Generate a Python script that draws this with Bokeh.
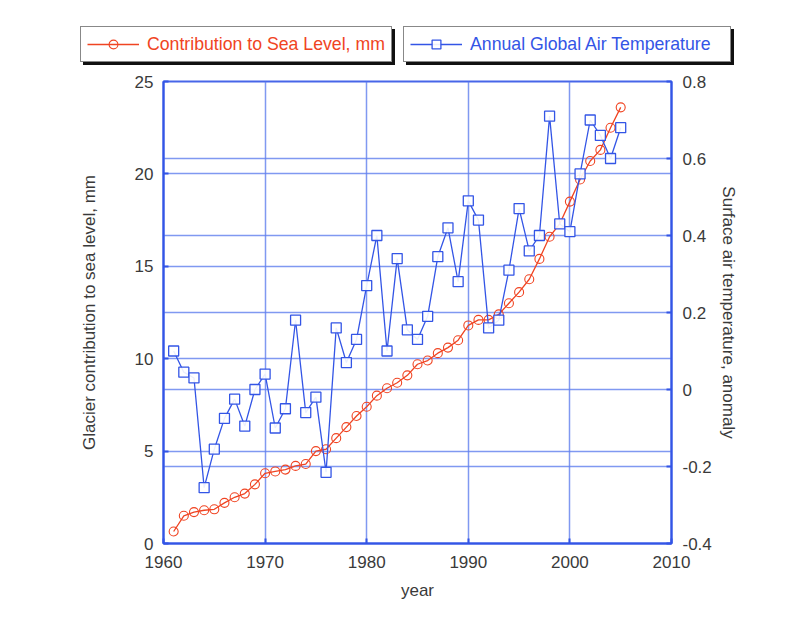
from bokeh.plotting import figure
from bokeh.layouts import column
from bokeh.models import Range1d, LinearAxis, FixedTicker, Grid, Legend, LegendItem, ColumnDataSource
from bokeh.embed import file_html
from bokeh.resources import INLINE

years = list(range(1961, 2006))
sea_level_mm = [0.65, 1.5, 1.7, 1.8, 1.85, 2.2, 2.5, 2.7, 3.2, 3.8,
                3.9, 4.0, 4.2, 4.3, 5.0, 5.1, 5.7, 6.3, 6.9, 7.4,
                8.0, 8.4, 8.7, 9.1, 9.7, 9.9, 10.3, 10.6, 11.0, 11.8,
                12.1, 12.1, 12.4, 13.0, 13.6, 14.3, 15.4, 16.6, 17.3, 18.5,
                19.7, 20.7, 21.3, 22.5, 23.6]
temp_anomaly = [0.10, 0.045, 0.03, -0.255, -0.155, -0.075, -0.025, -0.095, 0.0, 0.04,
                -0.10, -0.05, 0.18, -0.06, -0.02, -0.215, 0.16, 0.07, 0.13, 0.27,
                0.40, 0.10, 0.34, 0.155, 0.13, 0.19, 0.345, 0.42, 0.28, 0.49,
                0.44, 0.16, 0.18, 0.31, 0.47, 0.36, 0.40, 0.71, 0.43, 0.41,
                0.56, 0.70, 0.66, 0.60, 0.68]

x_ticks = [1960, 1970, 1980, 1990, 2000, 2010]
left_ticks = [0, 5, 10, 15, 20, 25]
right_ticks = [-0.4, -0.2, 0, 0.2, 0.4, 0.6, 0.8]
right_tick_labels = ["-0.4", "-0.2", "0", "0.2", "0.4", "0.6", "0.8"]

sea_label = "Contribution to Sea Level, mm"
temp_label = "Annual Global Air Temperature"

RED = "#f04422"
BLUE = "#3355e6"
GRID = "#6080ee"
FONT = "Liberation Sans"
TXT = "#3a3a3a"

src = ColumnDataSource(dict(year=years, sea=sea_level_mm, temp=temp_anomaly))

# ---------------- main chart ----------------
p = figure(width=790, height=540, x_range=Range1d(1960, 2010), y_range=Range1d(0, 25),
           output_backend="svg", toolbar_location=None,
           min_border_left=163, min_border_right=119, min_border_top=10, min_border_bottom=68)
p.extra_y_ranges = {"temp": Range1d(-0.4, 0.8)}

p.outline_line_color = BLUE
p.outline_line_width = 2
p.outline_line_alpha = 0.9

xa = p.xaxis[0]
xa.ticker = FixedTicker(ticks=x_ticks)
xa.axis_label = "year"
ya = p.yaxis[0]
ya.ticker = FixedTicker(ticks=left_ticks)
ya.axis_label = "Glacier contribution to sea level, mm"
ra = LinearAxis(y_range_name="temp", ticker=FixedTicker(ticks=right_ticks),
                axis_label="Surface air temperature, anomaly",
                major_label_overrides=dict(zip(right_ticks, right_tick_labels)))
p.add_layout(ra, "right")

for ax in (xa, ya, ra):
    ax.axis_line_color = BLUE
    ax.axis_line_width = 2
    ax.major_tick_line_color = BLUE
    ax.major_tick_line_width = 2
    ax.major_tick_in = 5
    ax.major_tick_out = 0
    ax.minor_tick_line_color = None
    ax.major_label_text_font = FONT
    ax.major_label_text_font_size = "17px"
    ax.major_label_text_color = TXT
    ax.axis_label_text_font = FONT
    ax.axis_label_text_font_size = "17px"
    ax.axis_label_text_font_style = "normal"
    ax.axis_label_text_color = TXT
xa.major_label_standoff = 12
xa.axis_label_standoff = 10
ya.major_label_standoff = 10
ya.axis_label_standoff = 33
ra.major_label_standoff = 11
ra.axis_label_standoff = 4

p.xgrid.ticker = FixedTicker(ticks=x_ticks)
p.ygrid.ticker = FixedTicker(ticks=left_ticks)
for g in (p.xgrid[0], p.ygrid[0]):
    g.grid_line_color = GRID
    g.grid_line_width = 1.5
    g.grid_line_alpha = 0.8
rg = Grid(dimension=1, ticker=FixedTicker(ticks=right_ticks), y_range_name="temp",
          grid_line_color=GRID, grid_line_width=1.5, grid_line_alpha=0.8)
p.add_layout(rg)

line_kw_r = dict(line_color=RED, line_width=1.3)
pt_kw_r = dict(marker="circle", size=9, line_color=RED, line_width=1.1, fill_color="white", fill_alpha=0.0)
line_kw_b = dict(line_color=BLUE, line_width=1.3)
pt_kw_b = dict(marker="square", size=10, line_color=BLUE, line_width=1.3, fill_color="white", fill_alpha=0.9)

p.line("year", "sea", source=src, **line_kw_r)
p.scatter("year", "sea", source=src, **pt_kw_r)
p.line("year", "temp", source=src, y_range_name="temp", **line_kw_b)
p.scatter("year", "temp", source=src, y_range_name="temp", **pt_kw_b)

# ---------------- legend strip (same series, drawn out of view; only legends show) ----------------
lf = figure(width=790, height=71, x_range=Range1d(1960, 2010), y_range=Range1d(100, 101),
            output_backend="svg", toolbar_location=None,
            min_border_left=0, min_border_right=0, min_border_top=0, min_border_bottom=0)
if "frame_align" in lf.properties():
    lf.frame_align = False
    p.frame_align = False
lf.axis.visible = False
lf.grid.visible = False
lf.outline_line_color = None

lr_line = lf.line("year", "sea", source=src, **line_kw_r)
lr_pts = lf.scatter("year", "sea", source=src, **pt_kw_r)
lb_line = lf.line("year", "temp", source=src, **line_kw_b)
lb_pts = lf.scatter("year", "temp", source=src, **pt_kw_b)


def make_legend(label, rends, color, loc, lw, shadow=False):
    return Legend(items=[LegendItem(label=" " if shadow else label, renderers=rends)], location=loc,
                  orientation="horizontal", padding=6, margin=0, spacing=0,
                  glyph_width=52, glyph_height=22, label_height=22, label_width=lw,
                  label_standoff=8, label_text_font=FONT, label_text_font_size="17.7px",
                  label_text_color=color,
                  border_line_color="#111111", border_line_width=1.5,
                  background_fill_color="#111111" if shadow else "white",
                  background_fill_alpha=1.0)


lf.add_layout(make_legend(sea_label, [lr_line, lr_pts], RED, (83, 6), 238, True))
lf.add_layout(make_legend(temp_label, [lb_line, lb_pts], BLUE, (406, 6), 254, True))
lf.add_layout(make_legend(sea_label, [lr_line, lr_pts], RED, (80, 9), 238))
lf.add_layout(make_legend(temp_label, [lb_line, lb_pts], BLUE, (403, 9), 254))

layout = column(lf, p, spacing=0)
open("out.html", "w").write(file_html(layout, INLINE))
